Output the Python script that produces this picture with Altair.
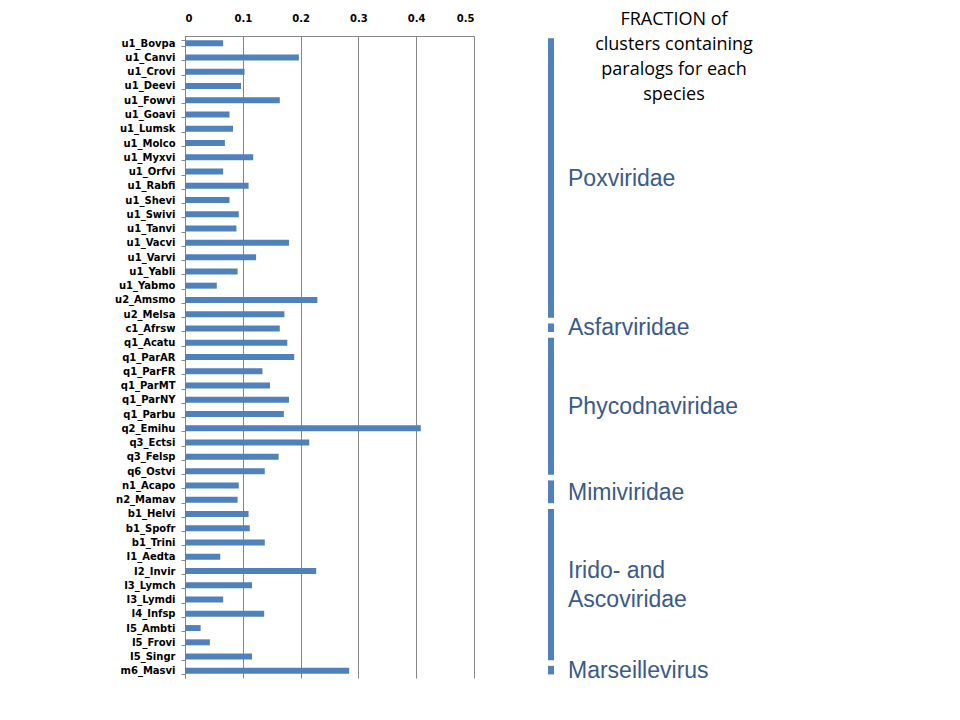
import altair as alt
import pandas as pd

SPECIES = [
    "u1_Bovpa", "u1_Canvi", "u1_Crovi", "u1_Deevi", "u1_Fowvi", "u1_Goavi",
    "u1_Lumsk", "u1_Molco", "u1_Myxvi", "u1_Orfvi", "u1_Rabfi", "u1_Shevi",
    "u1_Swivi", "u1_Tanvi", "u1_Vacvi", "u1_Varvi", "u1_Yabli", "u1_Yabmo",
    "u2_Amsmo", "u2_Melsa", "c1_Afrsw", "q1_Acatu", "q1_ParAR", "q1_ParFR",
    "q1_ParMT", "q1_ParNY", "q1_Parbu", "q2_Emihu", "q3_Ectsi", "q3_Felsp",
    "q6_Ostvi", "n1_Acapo", "n2_Mamav", "b1_Helvi", "b1_Spofr", "b1_Trini",
    "I1_Aedta", "I2_Invir", "I3_Lymch", "I3_Lymdi", "I4_Infsp", "I5_Ambti",
    "I5_Frovi", "I5_Singr", "m6_Masvi",
]
FRACTION = [
    0.066, 0.197, 0.103, 0.097, 0.164, 0.077,
    0.083, 0.069, 0.118, 0.066, 0.110, 0.077,
    0.093, 0.089, 0.180, 0.123, 0.091, 0.055,
    0.229, 0.172, 0.164, 0.177, 0.189, 0.134,
    0.147, 0.180, 0.171, 0.408, 0.215, 0.162,
    0.138, 0.093, 0.091, 0.110, 0.112, 0.138,
    0.061, 0.227, 0.116, 0.066, 0.137, 0.027,
    0.043, 0.116, 0.284,
]
FAMILIES = ["Poxviridae", "Asfarviridae", "Phycodnaviridae", "Mimiviridae",
            "Irido- and\nAscoviridae", "Marseillevirus"]
FAMILY_SIZES = [20, 1, 10, 2, 11, 1]
TITLE_LINES = ["FRACTION of", "clusters containing", "paralogs for each", "species"]
X_TICKS = [0, 0.1, 0.2, 0.3, 0.4, 0.5]

BLUE = "#4F81BD"
GREY = "#868686"
N = len(SPECIES)
HEIGHT = 642
ROW_PX = HEIGHT / N
LABEL_LINE_H = 29

df = pd.DataFrame({"species": SPECIES, "fraction": FRACTION})

starts, ends, mids = [], [], []
pos = 0
for s, name in zip(FAMILY_SIZES, FAMILIES):
    starts.append(pos + 0.15)
    ends.append(pos + s - 0.25)
    n_lines = name.count("\n") + 1
    # centre multi-line labels on their group
    mids.append(pos + s / 2 - (n_lines - 1) / 2 * LABEL_LINE_H / ROW_PX)
    pos += s
fam = pd.DataFrame({"family": FAMILIES, "y0": starts, "y1": ends, "mid": mids})

yq = alt.Scale(domain=[0, N], reverse=True, nice=False, zero=False)

bars = alt.Chart(df).mark_bar(color=BLUE).encode(
    x=alt.X("fraction:Q", title=None,
            scale=alt.Scale(domain=[0, 0.5], nice=False),
            axis=alt.Axis(orient="top", values=X_TICKS, format=".1~f",
                          ticks=False, labelPadding=13, grid=True,
                          gridColor=GREY, gridOpacity=1, domainColor=GREY,
                          labelFont="DejaVu Sans", labelFontWeight="bold",
                          labelFontSize=10, labelColor="black")),
    y=alt.Y("species:N", title=None, sort=SPECIES,
            scale=alt.Scale(paddingInner=0.58, paddingOuter=0.29),
            axis=alt.Axis(tickBand="extent", tickSize=4, tickColor=GREY,
                          domainColor=GREY, labelPadding=6,
                          labelFont="DejaVu Sans", labelFontWeight="bold",
                          labelFontSize=10, labelColor="black", grid=False)),
)

rules = alt.Chart(fam).mark_rule(color=BLUE, strokeWidth=6).encode(
    x=alt.value(366),
    y=alt.Y("y0:Q", scale=yq, axis=None),
    y2="y1:Q",
)

labels = alt.Chart(fam).mark_text(
    align="left", baseline="middle", font="Liberation Sans", fontSize=23,
    color="#3A5A8C", lineBreak="\n", lineHeight=LABEL_LINE_H,
).encode(
    x=alt.value(383),
    y=alt.Y("mid:Q", scale=yq, axis=None),
    text="family:N",
)

title = alt.Chart(pd.DataFrame({"t": [0]})).mark_text(
    align="center", baseline="alphabetic", font="Open Sans", fontSize=18,
    color="black", lineHeight=25,
).encode(
    x=alt.value(489),
    y=alt.value(-11),
    text=alt.value(TITLE_LINES),
)

chart = alt.layer(bars, rules, labels, title).resolve_scale(
    y="independent"
).properties(
    width=289, height=HEIGHT,
    autosize=alt.AutoSizeParams(type="none"),
    padding={"left": 177, "top": 28, "right": 300, "bottom": 34},
).configure_view(stroke=None)

chart.save("out.html", embed_options={"renderer": "svg", "actions": False})
